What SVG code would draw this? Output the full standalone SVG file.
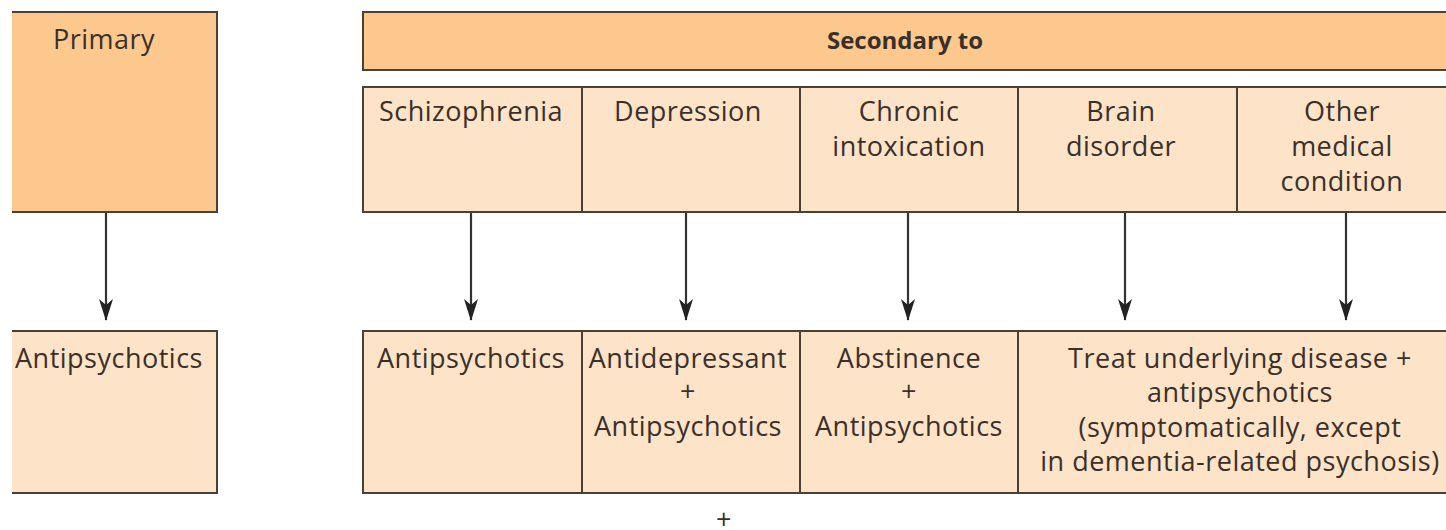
<svg xmlns="http://www.w3.org/2000/svg" width="1446" height="530" viewBox="0 0 1446 530">
<style>
.hdr{fill:#fdc88e;stroke:#4a4038;stroke-width:2}
.cell{fill:#fde3c8;stroke:#4a4038;stroke-width:2}
.edge{fill:none;stroke:#4a4038;stroke-width:2}
.t{font-family:"Open Sans","Noto Sans",sans-serif;font-size:27px;letter-spacing:0.5px;fill:#3b3029;text-anchor:middle}
.b{font-weight:bold;font-size:24px;letter-spacing:0}
.conn line{stroke:#333;stroke-width:2.2}
</style>
<defs>
<marker id="arr" markerUnits="userSpaceOnUse" markerWidth="22" markerHeight="14" viewBox="0 0 22 14" refX="21" refY="7" orient="auto">
<path d="M0,0 L22,7 L0,14 L6,7 Z" fill="#222"/>
</marker>
</defs>
<rect width="1446" height="530" fill="#fff"/>

<g id="primary">
<rect x="12" y="12" width="205" height="200" fill="#fdc88e"/>
<path class="edge" d="M12,12 H217 V212 H12"/>
<text class="t" x="104" y="49">Primary</text>
</g>

<g id="secondary-header">
<rect x="363" y="12" width="1090" height="58" class="hdr"/>
<text class="t b" x="905" y="49">Secondary to</text>
</g>

<g id="schizophrenia">
<rect x="363" y="87" width="219" height="125" class="cell"/>
<text class="t" x="471" y="121">Schizophrenia</text>
</g>
<g id="depression">
<rect x="582" y="87" width="218" height="125" class="cell"/>
<text class="t" x="688" y="121">Depression</text>
</g>
<g id="chronic">
<rect x="800" y="87" width="218" height="125" class="cell"/>
<text class="t" x="909" y="121">Chronic</text>
<text class="t" x="909" y="156">intoxication</text>
</g>
<g id="brain">
<rect x="1018" y="87" width="219" height="125" class="cell"/>
<text class="t" x="1121" y="121">Brain</text>
<text class="t" x="1121" y="156">disorder</text>
</g>
<g id="other">
<rect x="1237" y="87" width="216" height="125" class="cell"/>
<text class="t" x="1342" y="121">Other</text>
<text class="t" x="1342" y="156">medical</text>
<text class="t" x="1342" y="191">condition</text>
</g>

<g id="primary-treatment">
<rect x="12" y="331" width="205" height="162" fill="#fde3c8"/>
<path class="edge" d="M12,331 H217 V493 H12"/>
<text class="t" x="109" y="368">Antipsychotics</text>
</g>
<g id="t-schizophrenia">
<rect x="363" y="331" width="219" height="162" class="cell"/>
<text class="t" x="471" y="368">Antipsychotics</text>
</g>
<g id="t-depression">
<rect x="582" y="331" width="218" height="162" class="cell"/>
<text class="t" x="688" y="368">Antidepressant</text>
<text class="t" x="688" y="401">+</text>
<text class="t" x="688" y="436">Antipsychotics</text>
</g>
<g id="t-chronic">
<rect x="800" y="331" width="218" height="162" class="cell"/>
<text class="t" x="909" y="368">Abstinence</text>
<text class="t" x="909" y="401">+</text>
<text class="t" x="909" y="436">Antipsychotics</text>
</g>
<g id="t-other">
<rect x="1018" y="331" width="435" height="162" class="cell"/>
<text class="t" x="1240" y="368">Treat underlying disease +</text>
<text class="t" x="1240" y="402">antipsychotics</text>
<text class="t" x="1240" y="437">(symptomatically, except</text>
<text class="t" x="1240" y="471">in dementia-related psychosis)</text>
</g>

<g id="connectors" class="conn">
<line x1="106" y1="213" x2="106" y2="320" marker-end="url(#arr)"/>
<line x1="471" y1="213" x2="471" y2="320" marker-end="url(#arr)"/>
<line x1="686" y1="213" x2="686" y2="320" marker-end="url(#arr)"/>
<line x1="908" y1="213" x2="908" y2="320" marker-end="url(#arr)"/>
<line x1="1125" y1="213" x2="1125" y2="320" marker-end="url(#arr)"/>
<line x1="1346" y1="213" x2="1346" y2="320" marker-end="url(#arr)"/>
</g>

<text class="t" x="724" y="529">+</text>
</svg>
